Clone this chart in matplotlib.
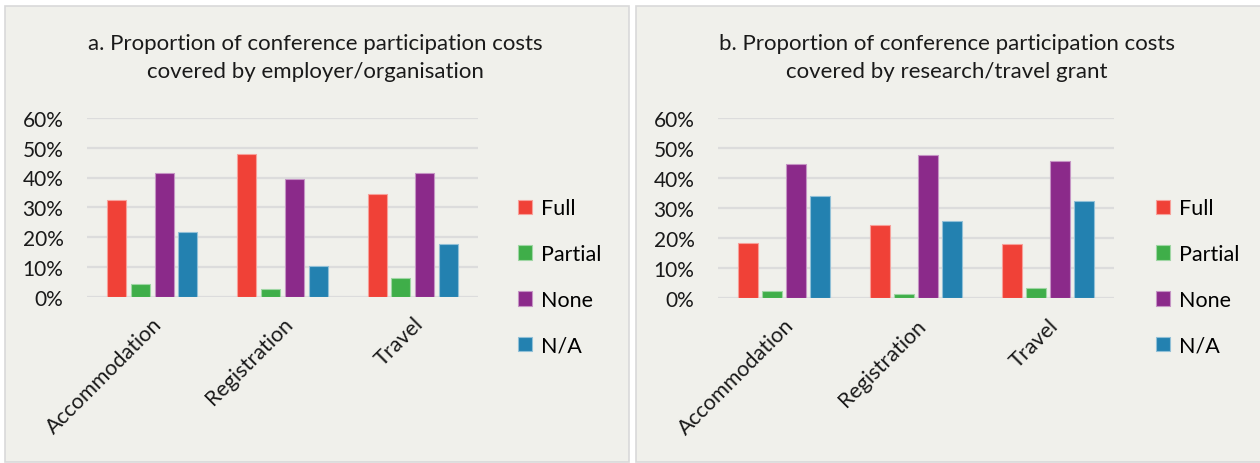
import matplotlib
matplotlib.use('Agg')
import matplotlib.pyplot as plt
from matplotlib.patches import Rectangle
import numpy as np

plt.rcParams['font.family'] = ['Lato', 'DejaVu Sans']

categories = ["Accommodation", "Registration", "Travel"]
series = ["Full", "Partial", "None", "N/A"]

# panel a: covered by employer/organisation
employer_full = [32.4, 47.9, 34.5]
employer_partial = [4.2, 2.5, 6.3]
employer_none = [41.5, 39.4, 41.5]
employer_na = [21.7, 10.1, 17.5]

# panel b: covered by research/travel grant
grant_full = [18.4, 24.3, 18.0]
grant_partial = [2.3, 1.3, 3.4]
grant_none = [44.6, 47.8, 45.7]
grant_na = [33.9, 25.8, 32.3]

titles = ["a. Proportion of conference participation costs\ncovered by employer/organisation",
          "b. Proportion of conference participation costs\ncovered by research/travel grant"]

colors = ["#f04137", "#3fae49", "#8b2a8a", "#2381b0"]
edges = ["#f7a09a", "#9fd6a4", "#c594c4", "#91c0d7"]
bg = "#f0f0eb"

fig = plt.figure(figsize=(12.6, 4.64), dpi=100)
W, H = 1260, 464

# panel backgrounds
for x0, x1 in [(5, 629), (636, 1262)]:
    fig.patches.append(Rectangle((x0 / W, 1 - 463 / H), (x1 - x0) / W, (463 - 7) / H,
                                 transform=fig.transFigure, facecolor=bg,
                                 edgecolor="#d9d9d9", linewidth=1.2, zorder=-5))

panels = [
    ([employer_full, employer_partial, employer_none, employer_na], (87, 478, 119, 297.5), 315, 518),
    ([grant_full, grant_partial, grant_none, grant_na], (718, 1114, 119, 299.3), 947, 1156),
]

x = np.arange(len(categories))
pitch = 0.182
width = 0.146

for i, (data, (px0, px1, py0, py1), tx, lx) in enumerate(panels):
    ax = fig.add_axes([px0 / W, 1 - py1 / H, (px1 - px0) / W, (py1 - py0) / H])
    ax.set_facecolor("none")
    ax.set_zorder(2)
    for j, vals in enumerate(data):
        ax.bar(x + (j - 1.5) * pitch, vals, width, color=colors[j],
               edgecolor=edges[j], linewidth=0.8, label=series[j], zorder=3)
    ax.set_xlim(-0.5, 2.5)
    ax.set_ylim(0, 60)
    ax.set_yticks(range(0, 61, 10))
    ax.set_yticklabels([f"{v}%" for v in range(0, 61, 10)], fontsize=15, color="#1a1a1a")
    ax.set_xticks(x)
    ax.set_xticklabels(categories, rotation=45, ha="right", rotation_mode="anchor",
                       fontsize=15.5, color="#1a1a1a")
    ax.tick_params(length=0, axis="y", pad=17)
    ax.tick_params(length=0, axis="x", pad=12)
    ax.grid(axis="y", color="#dcdcdc", linewidth=1.6, zorder=0)
    for s in ax.spines.values():
        s.set_visible(False)
    fig.text(tx / W, 1 - 58 / H, titles[i], ha="center", va="center",
             fontsize=16, color="#1a1a1a", linespacing=1.5)
    leg = ax.legend(loc="center left", bbox_to_anchor=((lx - 11) / W, 1 - 278 / H),
                    bbox_transform=fig.transFigure, frameon=False, fontsize=15.5,
                    handlelength=0.65, handleheight=0.65, handletextpad=0.45,
                    labelspacing=1.2, borderpad=0)

plt.savefig("out.png", dpi=100, facecolor="white")
